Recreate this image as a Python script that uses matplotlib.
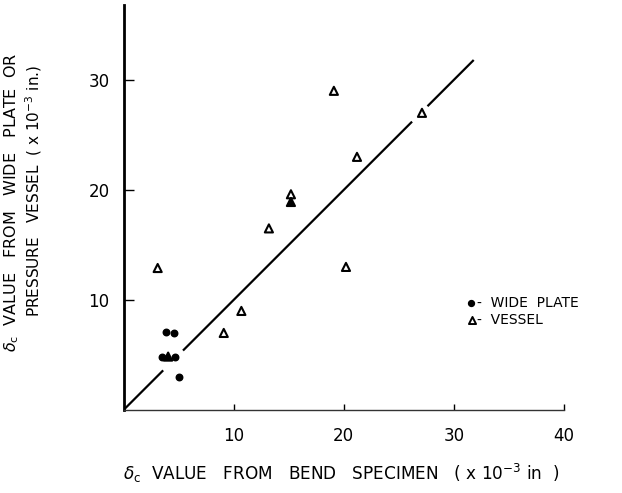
import numpy as np
import matplotlib
matplotlib.use("Agg")
import matplotlib.pyplot as plt

# wide plate results (x: bend specimen, y: wide plate), units 1e-3 in
plate_x = [3.9, 4.6, 3.5, 4.7, 5.0]
plate_y = [7.1, 7.0, 4.85, 4.8, 3.0]

# pressure vessel results
vessel_x = [3.1, 4.05, 9.1, 10.7, 13.2, 15.2, 15.2, 19.1, 20.2, 21.2, 27.1]
vessel_y = [12.9, 4.85, 7.0, 9.0, 16.5, 19.6, 18.9, 29.0, 13.0, 23.0, 27.0]
vessel_filled = [False, True, False, False, False, False, True, False, False, False, False]

# 1:1 line, drawn in pieces with breaks where it passes the symbols
line_pieces = [(0.0, 3.6), (5.4, 26.2), (27.6, 31.8)]

xticks = [10, 20, 30, 40]
yticks = [10, 20, 30]

plt.rcParams['font.family'] = 'DejaVu Sans'
plt.rcParams['mathtext.fontset'] = 'dejavusans'

fig = plt.figure(figsize=(6.22, 4.93), dpi=100)
ax = fig.add_axes([0.1986, 0.1684, 0.7082, 0.8215])

for a, b in line_pieces:
    ax.plot([a, b], [a, b], color='black', lw=1.6, solid_capstyle='butt')

ax.scatter(plate_x, plate_y, s=22, color='black', zorder=3)
fc = ['black' if f else 'white' for f in vessel_filled]
ax.scatter(vessel_x, vessel_y, s=34, marker='^', facecolors=fc,
           edgecolors='black', linewidths=1.5, zorder=3)

ax.set_xlim(0, 40)
ax.set_ylim(0, 36.8)
ax.set_xticks(xticks)
ax.set_yticks(yticks)
ax.set_xticklabels([str(t) for t in xticks], fontsize=12)
ax.set_yticklabels([str(t) for t in yticks], fontsize=12)
ax.tick_params(axis='y', direction='in', length=7, width=1.0, pad=10)
ax.tick_params(axis='x', direction='in', length=4, width=1.0, pad=12)

for s in ['top', 'right']:
    ax.spines[s].set_visible(False)
ax.spines['left'].set_linewidth(2.0)
ax.spines['bottom'].set_linewidth(1.0)
ax.spines['bottom'].set_color('#333333')

# legend drawn as plain text with symbols
ax.scatter([31.56], [9.73], s=18, color='black', clip_on=False)
ax.text(32.1, 9.73, '-  WIDE  PLATE', fontsize=10, va='center')
ax.scatter([31.6], [8.2], s=26, marker='^', facecolors='white',
           edgecolors='black', linewidths=1.4, clip_on=False)
ax.text(32.1, 8.2, '-  VESSEL', fontsize=10, va='center')

fig.text(0.198, 0.040,
         r'$\delta_{\rm c}$  VALUE   FROM   BEND   SPECIMEN   ( x 10$^{-3}$ in  )',
         fontsize=12.2, ha='left', va='center')
fig.text(0.019, 0.590,
         r'$\delta_{\rm c}$  VALUE   FROM   WIDE   PLATE  OR',
         fontsize=11.5, rotation=90, ha='center', va='center')
fig.text(0.054, 0.612,
         r'PRESSURE   VESSEL  ( x 10$^{-3}$ in.)',
         fontsize=11, rotation=90, ha='center', va='center')

fig.savefig('out.png', dpi=100)
